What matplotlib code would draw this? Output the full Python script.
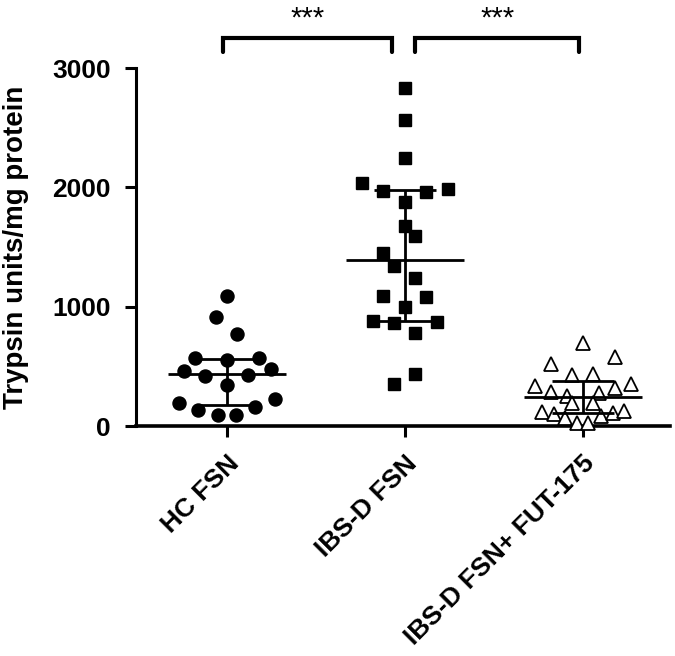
import matplotlib
matplotlib.use("Agg")
import matplotlib.pyplot as plt
import numpy as np

plt.rcParams['font.family'] = ['Liberation Sans', 'DejaVu Sans']
plt.rcParams['font.weight'] = 'bold'

categories = ["HC FSN", "IBS-D FSN", "IBS-D FSN+ FUT-175"]

hc_x_offset = [0.00, -0.06, 0.06, -0.18, 0.00, 0.18, -0.24, -0.12, 0.12, 0.25, 0.00,
               -0.27, -0.16, -0.05, 0.05, 0.16, 0.27]
hc_vals = [1092, 916, 771, 567, 553, 567, 464, 419, 427, 475, 344,
           190, 134, 92, 92, 162, 224]

ibs_x_offset = [0.00, 0.00, 0.00, -0.24, -0.12, 0.12, 0.24, 0.00, 0.00, 0.06, -0.12,
                -0.06, 0.06, -0.12, 0.12, 0.00, -0.18, -0.06, 0.18, 0.06, 0.06, -0.06]
ibs_vals = [2830, 2564, 2243, 2039, 1969, 1963, 1983, 1880, 1679, 1592, 1452,
            1341, 1243, 1089, 1078, 995, 880, 866, 874, 782, 436, 352]

fut_x_offset = [0.00, 0.18, -0.18, -0.06, 0.06, -0.27, -0.18, -0.09, 0.09, 0.18, 0.27,
                -0.06, 0.06, -0.23, -0.16, -0.10, -0.03, 0.03, 0.10, 0.17, 0.23]
fut_vals = [698, 576, 520, 427, 436, 335, 288, 251, 279, 316, 352,
            190, 190, 120, 100, 64, 22, 22, 84, 112, 128]

medians = [433, 1391, 246]
q_low = [176, 880, 112]
q_high = [559, 1978, 377]

fig = plt.figure(figsize=(6.75, 6.56), dpi=100)
ax = fig.add_axes([0.2015, 0.3506, 0.7911, 0.5457])

groups = [(hc_x_offset, hc_vals, dict(marker='o', color='black', ms=9.4, mfc='black', mec='black')),
          (ibs_x_offset, ibs_vals, dict(marker='s', color='black', ms=9.2, mfc='black', mec='black')),
          (fut_x_offset, fut_vals, dict(marker='^', color='black', ms=10, mfc='white', mec='black', mew=1.3))]

for i, (xo, vals, st) in enumerate(groups):
    ax.plot(np.array(xo) + i, vals, linestyle='none', clip_on=False, zorder=3, **st)

for i in range(3):
    ax.hlines(medians[i], i - 0.33, i + 0.33, color='black', lw=2.0, zorder=4)
    ax.hlines([q_low[i], q_high[i]], i - 0.175, i + 0.175, color='black', lw=2.0, zorder=4)
    ax.vlines(i, q_low[i], q_high[i], color='black', lw=2.0, zorder=4)

ax.set_xlim(-0.51, 2.49)
ax.set_ylim(0, 3000)
ax.set_yticks([0, 1000, 2000, 3000])
ax.set_xticks([0, 1, 2])
ax.set_xticklabels(categories, rotation=45, ha='right', rotation_mode='anchor', fontsize=19, fontweight='bold')
ax.tick_params(axis='y', labelsize=19, width=2.2, length=8, pad=10)
ax.tick_params(axis='x', width=2.2, length=8, pad=10)
for lab in ax.get_yticklabels():
    lab.set_fontweight('bold')
ax.spines['top'].set_visible(False)
ax.spines['right'].set_visible(False)
ax.spines['left'].set_linewidth(2.2)
ax.spines['bottom'].set_linewidth(2.6)
ax.set_ylabel("Trypsin units/mg protein", fontsize=20, fontweight='bold', labelpad=17)

# significance brackets
brackets = [(-0.02, 0.93, "***"), (1.06, 1.98, "***")]
for x0, x1, txt in brackets:
    ax.plot([x0, x0, x1, x1], [3134, 3251, 3251, 3134], color='black', lw=3, clip_on=False,
            solid_capstyle='round', solid_joinstyle='miter')
    ax.text((x0 + x1) / 2, 3350, txt, ha='center', va='baseline', fontsize=21, fontweight='normal')

fig.savefig("out.png", dpi=100)
